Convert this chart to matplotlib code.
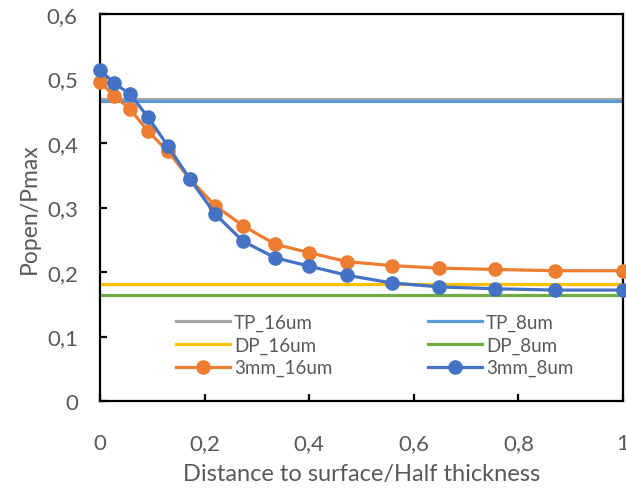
import matplotlib
matplotlib.use("Agg")
from matplotlib import pyplot as plt
from matplotlib.ticker import FuncFormatter

plt.rcParams['font.family'] = ['Lato', 'DejaVu Sans']

# relative depth through the half thickness
depth = [0, 0.027, 0.057, 0.092, 0.13, 0.172, 0.22, 0.273, 0.335, 0.40,
         0.472, 0.558, 0.648, 0.755, 0.87, 1.0]

p_3mm_16um = [0.495, 0.473, 0.453, 0.418, 0.387, 0.344, 0.303, 0.272, 0.243,
              0.230, 0.216, 0.210, 0.206, 0.204, 0.202, 0.202]
p_3mm_8um = [0.513, 0.493, 0.476, 0.440, 0.395, 0.344, 0.290, 0.248, 0.222,
             0.209, 0.195, 0.183, 0.177, 0.174, 0.172, 0.172]

# constant reference levels
tp_16um = 0.468
tp_8um = 0.465
dp_16um = 0.181
dp_8um = 0.165

grey_txt = '#595959'

fig = plt.figure(figsize=(6.26, 4.89), dpi=100)
ax = fig.add_axes([100 / 626, 1 - 402 / 489, 523 / 626, 387 / 489])

ax.plot([0, 1], [tp_16um] * 2, color='#A5A5A5', lw=2.3, label='TP_16um')
ax.plot([0, 1], [dp_16um] * 2, color='#FFC000', lw=2.3, label='DP_16um')
ax.plot(depth, p_3mm_16um, color='#ED7D31', lw=2.3, marker='o', ms=9.5,
        label='3mm_16um', clip_on=False, zorder=4)
ax.plot([0, 1], [tp_8um] * 2, color='#5B9BD5', lw=2.3, label='TP_8um')
ax.plot([0, 1], [dp_8um] * 2, color='#70AD47', lw=2.3, label='DP_8um')
ax.plot(depth, p_3mm_8um, color='#4472C4', lw=2.3, marker='o', ms=9.5,
        label='3mm_8um', clip_on=False, zorder=5)

ax.set_xlim(0, 1)
ax.set_ylim(0, 0.6)
ax.set_xticks([0, 0.2, 0.4, 0.6, 0.8, 1.0])
ax.set_yticks([0, 0.1, 0.2, 0.3, 0.4, 0.5, 0.6])
fmt = FuncFormatter(lambda v, p: ('%g' % round(v, 2)).replace('.', ','))
ax.xaxis.set_major_formatter(fmt)
ax.yaxis.set_major_formatter(fmt)

for s in ax.spines.values():
    s.set_linewidth(1.6)
    s.set_color('black')
ax.tick_params(direction='in', length=5, width=1.6, labelsize=16,
               labelcolor=grey_txt)
ax.tick_params(axis='x', pad=23)
ax.tick_params(axis='y', pad=16)

ax.set_xlabel('Distance to surface/Half thickness', fontsize=17,
              color=grey_txt, labelpad=7)
ax.set_ylabel('Popen/Pmax', fontsize=16.5, color=grey_txt, labelpad=5)

ax.legend(ncol=2, loc='center', bbox_to_anchor=(0.525, 0.145),
          frameon=False, fontsize=13.5, handlelength=2.9,
          handletextpad=0.2, columnspacing=5.1, labelspacing=0.3,
          labelcolor=grey_txt)

fig.savefig('out.png', dpi=100)
